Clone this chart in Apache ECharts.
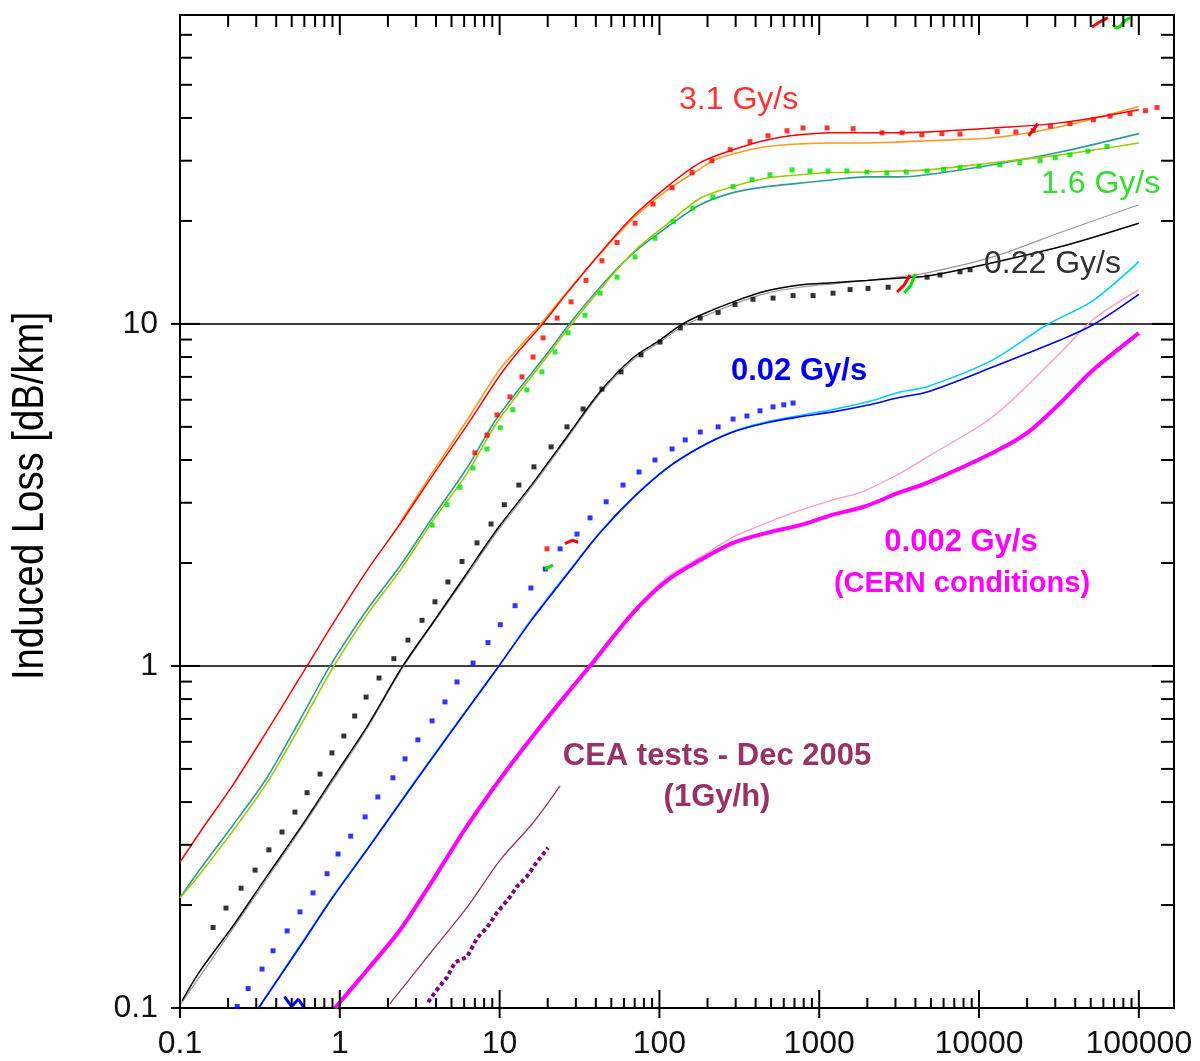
<!DOCTYPE html>
<html><head><meta charset="utf-8">
<script src="https://cdn.jsdelivr.net/npm/echarts@6/dist/echarts.min.js"></script>
<style>html,body{margin:0;padding:0;background:#fff}#c{width:1200px;height:1061px}</style>
</head><body><div id="c"></div>
<script>
// ---------- axis ranges & tick labels ----------
const X_MIN = 0.1, X_MAX = 166000, Y_MIN = 0.1, Y_MAX = 80;
const xTickLabels = ['0.1','1','10','100','1000','10000','100000'];
const yTickLabels = ['0.1','1','10'];
const xMajorTicks = [0.1,1,10,100,1000,10000,100000];
const yMajorTicks = [0.1,1,10];
const minorMultipliers = [2,3,4,5,6,7,8,9];

// ---------- series data [dose (Gy), induced loss (dB/km)] ----------
const red31Fit = [[0.1,0.267],[0.133,0.326],[0.215,0.45],[0.35,0.645],[0.539,0.895],[0.624,1.0],[0.906,1.33],[1.48,1.9],[2.38,2.6],[3.83,3.62],[6.25,5.05],[10.1,7.1],[13.4,8.4],[18.4,9.94],[26.4,12.3],[42.5,16.1],[68.4,20.6],[112,25.2],[180,29.6],[289,32.3],[471,34.5],[758,35.7],[1220,36.2],[1990,36.2],[3070,36.2],[4730,36.4],[12200,37.4],[32200,38.7],[100000,42.3]];
const orange31Fit = [[2.4,2.64],[3.8,3.68],[6.2,5.2],[10,7.35],[13.4,8.6],[18.4,10.1],[26.4,12.4],[42.5,16.0],[68.4,20.3],[112,24.6],[180,28.4],[216,30.0],[289,31.4],[471,33.0],[758,33.6],[1220,33.8],[1800,33.8],[3070,34.0],[4730,34.3],[12200,35.0],[32200,37.7],[100000,43.2]];
const red31Data = [[7.0,4.2],[8.34,4.73],[9.63,5.42],[11.6,6.12],[13.8,7.0],[16.2,8.0],[18.7,9.1],[22.9,10.4],[28.0,11.6],[34.7,13.4],[43.7,15.3],[54.3,17.3],[70.4,19.7],[91.2,22.4],[120,25.0],[160,27.7],[213,30.0],[277,32.3],[369,34.1],[478,35.5],[629,36.7],[792,37.4],[1120,37.4],[1630,37.2],[2470,36.2],[3300,36.2],[4390,35.7],[5860,36.0],[7600,35.9],[13000,36.5],[17000,36.4],[21800,36.8],[28000,37.9],[37100,38.5],[52000,39.5],[66000,40.5],[88100,41.2],[110000,42.0],[130000,42.9],[19.8,2.2]];
const teal16Fit = [[0.1,0.21],[0.133,0.254],[0.215,0.343],[0.35,0.471],[0.563,0.695],[0.869,1.0],[1.48,1.46],[2.38,1.96],[3.83,2.73],[6.25,3.79],[9.63,5.31],[20.7,8.4],[26.4,9.8],[42.5,12.8],[68.4,16.1],[112,19.2],[180,22.3],[289,24.2],[471,25.2],[758,25.8],[1220,26.4],[1990,26.9],[3070,26.9],[4730,27.3],[12200,29.2],[32200,31.8],[100000,36.0]];
const yellowGreen16Fit = [[0.1,0.21],[0.133,0.246],[0.215,0.33],[0.35,0.455],[0.563,0.665],[0.92,1.0],[1.48,1.41],[2.38,1.9],[3.83,2.66],[6.25,3.65],[9.63,5.15],[20.7,8.25],[26.4,9.6],[42.5,12.6],[68.4,16.2],[112,19.6],[180,23.3],[289,25.2],[471,26.7],[758,27.3],[1220,27.7],[1990,27.8],[3070,28.0],[4730,28.2],[12200,29.6],[32200,31.2],[100000,33.8]];
const green16Data = [[3.78,2.58],[4.69,2.96],[5.65,3.33],[6.82,3.79],[8.34,4.31],[10.1,4.97],[12.1,5.61],[14.8,6.41],[18.4,7.24],[22.2,8.28],[26.8,9.42],[34.2,10.6],[42.5,12.3],[54.3,13.7],[70.4,15.7],[93.8,17.8],[122,19.9],[162,21.8],[216,23.5],[289,25.2],[380,26.4],[492,27.3],[676,28.2],[876,28.0],[1135,28.0],[1490,28.0],[1990,27.8],[2650,27.6],[3500,27.8],[4730,28.0],[6000,28.3],[7600,28.6],[10000,28.9],[13500,29.2],[18000,29.6],[24100,30.0],[30000,30.6],[37100,31.2],[48000,32.0],[63200,33.0]];
const black022Fit = [[0.103,0.105],[0.133,0.128],[0.215,0.174],[0.35,0.243],[0.563,0.335],[0.906,0.47],[1.48,0.665],[2.48,1.0],[3.83,1.34],[6.25,1.87],[9.77,2.53],[16.2,3.43],[26.4,4.68],[42.5,6.33],[68.4,7.96],[101,8.97],[135,9.9],[180,10.6],[289,11.6],[471,12.5],[758,13.0],[1220,13.2],[1990,13.4],[3070,13.6],[4730,13.8],[12200,15.1],[32200,16.8],[100000,19.7]];
const gray022Fit = [[0.1,0.102],[0.215,0.171],[0.563,0.33],[0.906,0.462],[1.48,0.655],[2.48,0.99],[6.25,1.84],[9.77,2.49],[16.2,3.38],[26.4,4.62],[42.5,6.25],[68.4,7.85],[101,8.85],[135,9.75],[180,10.4],[289,11.4],[471,12.3],[758,12.8],[1220,13.1],[1990,13.4],[3070,13.7],[4730,14.1],[12200,15.7],[32200,18.5],[100000,22.3]];
const black022Data = [[0.161,0.172],[0.194,0.196],[0.241,0.224],[0.295,0.253],[0.360,0.290],[0.435,0.327],[0.524,0.374],[0.624,0.426],[0.752,0.483],[0.893,0.557],[1.06,0.624],[1.24,0.714],[1.46,0.811],[1.76,0.922],[2.18,1.05],[2.67,1.19],[3.27,1.36],[3.94,1.54],[4.75,1.76],[5.82,2.02],[7.22,2.29],[8.84,2.60],[10.7,2.96],[13.2,3.38],[16.4,3.82],[21.0,4.37],[26.4,5.00],[33.3,5.64],[43.7,6.45],[57.5,7.24],[76.7,8.12],[101,8.85],[135,9.73],[180,10.4],[233,10.8],[297,11.4],[385,11.8],[514,11.9],[686,12.1],[915,12.1],[1220,12.3],[1560,12.6],[2020,12.7],[2700,12.8],[4730,13.7],[5700,13.9],[7600,14.2],[8790,14.4]];
const blue002Fit = [[0.31,0.1],[0.563,0.151],[0.906,0.211],[1.48,0.290],[2.38,0.397],[3.83,0.542],[6.25,0.743],[9.9,1.0],[16.2,1.38],[26.4,1.85],[42.5,2.45],[68.4,3.10],[112,3.79],[180,4.36],[289,4.83],[471,5.14],[758,5.35],[1220,5.53],[1990,5.78],[3210,6.1],[4730,6.32],[12200,7.48],[32200,8.97],[51700,9.94],[100000,12.2]];
const cyan002Fit = [[0.31,0.1],[0.563,0.152],[0.906,0.212],[1.48,0.291],[2.38,0.399],[3.83,0.545],[6.25,0.746],[9.9,1.0],[16.2,1.39],[26.4,1.86],[42.5,2.46],[68.4,3.11],[112,3.80],[180,4.37],[289,4.85],[471,5.17],[758,5.40],[1220,5.62],[1990,5.91],[3210,6.32],[4730,6.55],[12200,7.85],[26600,9.94],[51700,11.7],[100000,15.2]];
const blue002Data = [[0.228,0.101],[0.267,0.114],[0.326,0.130],[0.382,0.147],[0.468,0.168],[0.563,0.191],[0.680,0.217],[0.832,0.247],[0.975,0.282],[1.17,0.318],[1.44,0.362],[1.73,0.414],[2.15,0.471],[2.56,0.535],[3.08,0.608],[3.78,0.691],[4.55,0.785],[5.41,0.898],[6.82,1.02],[8.46,1.17],[10.1,1.32],[12.5,1.50],[15.7,1.69],[19.3,1.92],[23.9,2.2],[30.5,2.43],[36.8,2.71],[46.4,3.02],[59.2,3.38],[74.5,3.69],[93.8,4.00],[120,4.31],[145,4.58],[180,4.83],[233,5.00],[289,5.27],[353,5.38],[426,5.57],[514,5.72],[600,5.8],[686,5.87]];
const magenta0002Fit = [[0.933,0.1],[1.48,0.129],[2.38,0.169],[3.83,0.237],[6.25,0.34],[10.1,0.468],[16.2,0.625],[26.4,0.83],[36.8,1.0],[68.4,1.43],[112,1.78],[180,2.04],[289,2.29],[471,2.45],[758,2.58],[1220,2.77],[1900,2.92],[3210,3.22],[4730,3.43],[12200,4.20],[20000,4.80],[32200,5.87],[51700,7.33],[100000,9.4]];
const pink0002Fit = [[0.933,0.1],[1.48,0.13],[2.38,0.17],[3.83,0.238],[6.25,0.342],[10.1,0.47],[16.2,0.627],[26.4,0.833],[36.8,1.0],[68.4,1.45],[112,1.82],[180,2.08],[289,2.38],[471,2.62],[758,2.85],[1220,3.06],[1800,3.21],[3210,3.66],[4730,4.08],[12200,5.35],[32200,8.22],[51700,10.3],[100000,12.6]];
const ceaFit = [[2.06,0.103],[3.83,0.148],[6.25,0.197],[10.1,0.271],[16.2,0.348],[23.9,0.446]];
const ceaData = [[3.57,0.104],[4.05,0.113],[4.69,0.123],[5.26,0.136],[6.25,0.141],[7.22,0.160],[8.34,0.172],[9.63,0.190],[11.6,0.211],[12.8,0.226],[14.8,0.242],[17.1,0.267],[20.1,0.294]];
// short fragments of other runs
const redFragA = [[25.6,2.28],[28.5,2.33],[31.0,2.30]];
const greenFragA = [[19.2,1.92],[21.6,1.97]];
const redFragB = [[3070,12.4],[3400,13.0],[3700,13.9]];
const greenFragB = [[3400,12.3],[3750,13.0],[4000,14.0]];
const redFragC = [[20400,35.5],[22000,37.0],[23300,38.5]];
const redFragTop = [[50900,73.8],[57100,76.4],[64100,78.6]];
const greenFragTop = [[68900,75],[72000,73.3],[76200,74],[82000,77],[88100,78.6]];
const blueFrag = [[0.45,0.108],[0.5,0.101],[0.55,0.106],[0.6,0.1]];

// ---------- tick marks (custom series through the axes) ----------
const tickData = [];
function addTicks(vals, major, side, isX) {
  vals.forEach(v => {
    if (isX) {
      if (v < X_MIN - 1e-12 || v > X_MAX) return;
      tickData.push([v, side === 0 ? Y_MIN : Y_MAX, side, major]);
    } else {
      if (v < Y_MIN - 1e-12 || v > Y_MAX) return;
      tickData.push([side === 2 ? X_MIN : X_MAX, v, side, major]);
    }
  });
}
const xMinorTicks = [], yMinorTicks = [];
xMajorTicks.forEach(d => minorMultipliers.forEach(m => xMinorTicks.push(+(d*m).toPrecision(6))));
yMajorTicks.forEach(d => minorMultipliers.forEach(m => yMinorTicks.push(+(d*m).toPrecision(6))));
[0,1].forEach(s => { addTicks(xMajorTicks, 1, s, true); addTicks(xMinorTicks, 0, s, true); });
[2,3].forEach(s => { addTicks(yMajorTicks, 1, s, false); addTicks(yMinorTicks, 0, s, false); });

function labelFor(list) {
  return function (v) {
    const l = Math.log10(v), r = Math.round(l);
    if (Math.abs(l - r) < 1e-6 && r + 1 >= 0 && r + 1 < list.length) return list[r + 1];
    return '';
  };
}

const FONT = '"Liberation Sans", Arial, Helvetica, sans-serif';
function lineS(name, data, color, width, extra) {
  return Object.assign({ name, type: 'line', data, showSymbol: false, symbol: 'none',
    smooth: 0.3, lineStyle: { color, width }, z: 2, silent: true }, extra || {});
}
function dots(name, data, color, size) {
  return { name, type: 'scatter', data, symbol: 'rect', symbolSize: size, itemStyle: { color }, z: 3, silent: true };
}
function frag(name, data, color) {
  return { name, type: 'line', data, showSymbol: false, symbol: 'none', lineStyle: { color, width: 3 }, z: 4, silent: true };
}
function txt(text, x, y, color, font, align) {
  return { type: 'text', x, y, z: 20, silent: true,
    style: { text, fill: color, font, align: align || 'left', verticalAlign: 'middle',
      textAlign: align || 'left', textVerticalAlign: 'middle' } };
}

const chart = echarts.init(document.getElementById('c'), null, { renderer: 'canvas' });
chart.setOption({
  animation: false,
  backgroundColor: '#ffffff',
  textStyle: { fontFamily: FONT },
  grid: { left: 180, top: 15, right: 26, bottom: 53, show: true, borderColor: '#000', borderWidth: 2,
    backgroundColor: 'transparent', containLabel: false, outerBoundsMode: 'none' },
  xAxis: {
    type: 'log', logBase: 10, min: X_MIN, max: X_MAX,
    axisLine: { show: true, lineStyle: { color: '#000', width: 2 } },
    axisTick: { show: false }, minorTick: { show: false },
    splitLine: { show: false },
    axisLabel: { show: true, margin: 20, color: '#111', fontSize: 32, fontFamily: FONT,
      showMinLabel: true, showMaxLabel: true, formatter: labelFor(xTickLabels) }
  },
  yAxis: {
    type: 'log', logBase: 10, min: Y_MIN, max: Y_MAX,
    axisLine: { show: true, lineStyle: { color: '#000', width: 2 } },
    axisTick: { show: false }, minorTick: { show: false },
    splitLine: { show: true, lineStyle: { color: '#000', width: 1.5 } },
    axisLabel: { show: true, margin: 22, color: '#111', fontSize: 32, fontFamily: FONT,
      showMinLabel: true, showMaxLabel: true, formatter: labelFor(yTickLabels) }
  },
  series: [
    lineS('CEA fit', ceaFit, '#993366', 1.3),
    { name: 'CEA data', type: 'line', data: ceaData, showSymbol: false, symbol: 'none',
      lineStyle: { color: '#800080', width: 4, type: [4, 3] }, z: 3, silent: true },
    lineS('0.002 pink', pink0002Fit, '#ff99cc', 1.3),
    lineS('0.002 magenta', magenta0002Fit, '#ff00ff', 4),
    lineS('0.02 cyan', cyan002Fit, '#00ccff', 1.6),
    lineS('0.02 blue', blue002Fit, '#0000ff', 1.6),
    lineS('0.22 gray', gray022Fit, '#999999', 1.2),
    lineS('0.22 black', black022Fit, '#000000', 1.5),
    lineS('1.6 teal', teal16Fit, '#2e9a9a', 1.6),
    lineS('1.6 yellowgreen', yellowGreen16Fit, '#99cc00', 1.6),
    lineS('3.1 orange', orange31Fit, '#ff9922', 1.6),
    lineS('3.1 red', red31Fit, '#ff0000', 1.5),
    dots('0.02 data', blue002Data, '#0000ff', 5),
    dots('0.22 data', black022Data, '#000000', 5),
    dots('1.6 data', green16Data, '#00e000', 5),
    dots('3.1 data', red31Data, '#ff0000', 5),
    frag('redA', redFragA, '#ff0000'),
    frag('greenA', greenFragA, '#00e000'),
    frag('redB', redFragB, '#ff0000'),
    frag('greenB', greenFragB, '#00e000'),
    frag('redC', redFragC, '#ff0000'),
    frag('redTop', redFragTop, '#ff0000'),
    frag('greenTop', greenFragTop, '#00e000'),
    frag('blueFrag', blueFrag, '#0000ff'),
    {
      name: 'ticks', type: 'custom', coordinateSystem: 'cartesian2d', data: tickData,
      encode: { x: 0, y: 1 }, clip: false, z: 10, silent: true,
      renderItem: function (params, api) {
        const side = api.value(2), major = api.value(3) === 1;
        const p = api.coord([api.value(0), api.value(1)]);
        let x1 = p[0], y1 = p[1], x2 = p[0], y2 = p[1];
        if (side === 0) { y1 = p[1] + (major ? 10 : 0); y2 = p[1] - (major ? 18 : 10); }
        else if (side === 1) { y1 = p[1]; y2 = p[1] + (major ? 20 : 12); }
        else if (side === 2) { x1 = p[0] - (major ? 9 : 0); x2 = p[0] + (major ? 20 : 12); }
        else { x1 = p[0]; x2 = p[0] - (major ? 22 : 13); }
        return { type: 'line', shape: { x1, y1, x2, y2 }, style: { stroke: '#000', lineWidth: 2 } };
      }
    }
  ],
  graphic: [
    { type: 'text', x: 31, y: 496, rotation: Math.PI / 2, scaleX: 0.87, scaleY: 1, z: 20, silent: true,
      style: { text: 'Induced Loss [dB/km]', fill: '#000', font: '44px ' + FONT,
        align: 'center', verticalAlign: 'middle', textAlign: 'center', textVerticalAlign: 'middle' } },
    txt('3.1 Gy/s', 679, 100, '#ff3333', '32px ' + FONT),
    txt('1.6 Gy/s', 1041, 184, '#33dd33', '32px ' + FONT),
    txt('0.22 Gy/s', 984, 264, '#333333', '32px ' + FONT),
    txt('0.02 Gy/s', 731, 371, '#0000ee', 'bold 31px ' + FONT),
    txt('0.002 Gy/s', 961, 542, '#ff00ff', 'bold 31px ' + FONT, 'center'),
    txt('(CERN conditions)', 962, 584, '#ff00ff', 'bold 29px ' + FONT, 'center'),
    txt('CEA tests - Dec 2005', 717, 756, '#993366', 'bold 31px ' + FONT, 'center'),
    txt('(1Gy/h)', 717, 797, '#993366', 'bold 31px ' + FONT, 'center')
  ]
});
</script>
</body></html>
